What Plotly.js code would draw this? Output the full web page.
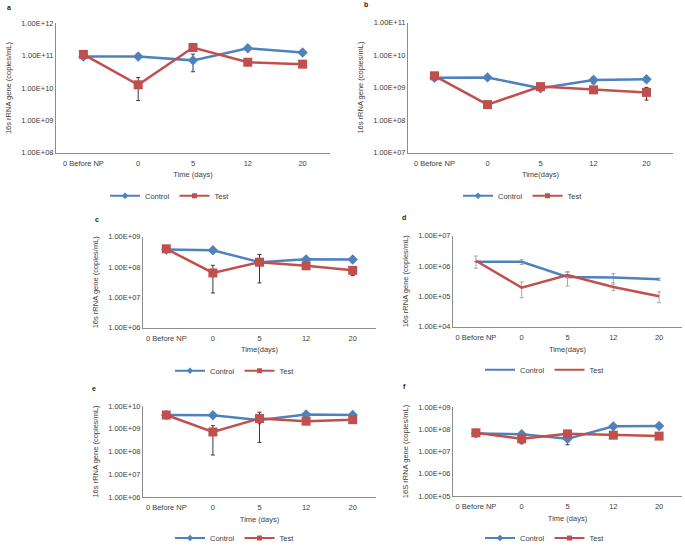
<!DOCTYPE html>
<html>
<head>
<meta charset="utf-8">
<script src="https://cdn.plot.ly/plotly-3.0.1.min.js"></script>
<style>html,body{margin:0;padding:0;background:#fff}#chart{width:685px;height:553px}</style>
</head>
<body>
<div id="chart"></div>
<script>
// ---- Data ----
const categories = ['0 Before NP', '0', '5', '12', '20'];

// Panel a
const aControl = [9.5e10, 9.5e10, 7.2e10, 1.7e11, 1.26e11];
const aControlErr = [1e10, 5e9, 4e10, 1e10, 8e9];
const aTest = [1.1e11, 1.26e10, 1.8e11, 6.3e10, 5.5e10];
const aTestErr = [0, 8.5e9, 0, 0, 0];
// Panel b
const bControl = [2.0e9, 2.05e9, 9.5e8, 1.7e9, 1.8e9];
const bControlErr = [2e8, 1.5e8, 1e8, 4e8, 2.5e8];
const bTest = [2.3e9, 3.0e8, 1.07e9, 8.5e8, 7.1e8];
const bTestErr = [0, 0, 0, 0, 3e8];
// Panel c
const cControl = [3.8e8, 3.6e8, 1.45e8, 1.8e8, 1.78e8];
const cControlErr = [3e7, 0, 0, 2e7, 0];
const cTest = [4.0e8, 6.4e7, 1.45e8, 1.1e8, 7.8e7];
const cTestErr = [0, 5e7, 1.15e8, 1.5e7, 2.5e7];
// Panel d
const dControl = [1.38e6, 1.38e6, 4.4e5, 4.2e5, 3.7e5];
const dControlErr = [0, 2.5e5, 2.2e5, 1.4e5, 3e4];
const dTest = [1.5e6, 1.95e5, 5.1e5, 2.05e5, 1.02e5];
const dTestErr = [6.5e5, 1.05e5, 1e5, 5e4, 4e4];
// Panel e
const eControl = [4.0e9, 3.9e9, 2.4e9, 4.2e9, 4.0e9];
const eControlErr = [0, 0, 0, 0, 0];
const eTest = [4.0e9, 7.2e8, 2.8e9, 2.15e9, 2.5e9];
const eTestErr = [0, 6.5e8, 2.55e9, 0, 3e8];
// Panel f
const fControl = [6.5e7, 6.0e7, 3.7e7, 1.35e8, 1.4e8];
const fControlErr = [0, 0, 1.7e7, 0, 0];
const fTest = [6.9e7, 3.7e7, 6.2e7, 5.4e7, 4.9e7];
const fTestErr = [0, 1.5e7, 0, 0, 0];

const yTickExps = {
  a: [8, 9, 10, 11, 12],
  b: [7, 8, 9, 10, 11],
  c: [6, 7, 8, 9],
  d: [4, 5, 6, 7],
  e: [6, 7, 8, 9, 10],
  f: [5, 6, 7, 8, 9]
};
const yTitles = {
  a: '16s rRNA gene (copies/mL)', b: '16s rRNA gene (copies/mL)', c: '16s rRNA gene (copies/mL)',
  d: '16s rRNA gene (copies/mL)', e: '16s rRNA gene (copies/mL)', f: '16S rRNA gene (copies/mL)'
};
const xTitles = {a: 'Time (days)', b: 'Time(days)', c: 'Time(days)', d: 'Time(days)', e: 'Time (days)', f: 'Time (days)'};
const seriesNames = ['Control', 'Test'];

// ---- Layout geometry (pixels) ----
const W = 685, H = 553;
const panels = [
  {k: 'a', ctrl: aControl, ctrlErr: aControlErr, test: aTest, testErr: aTestErr, box: [56, 330, 24, 156], leg: [170, 200], lab: [5, 8], markers: true, errCol: '#3a3a3a'},
  {k: 'b', ctrl: bControl, ctrlErr: bControlErr, test: bTest, testErr: bTestErr, box: [408, 673, 23, 156], leg: [523, 200], lab: [362, 5], markers: true, errCol: '#3a3a3a'},
  {k: 'c', ctrl: cControl, ctrlErr: cControlErr, test: cTest, testErr: cTestErr, box: [143, 376, 242, 335], leg: [235, 379], lab: [93, 224], markers: true, errCol: '#3a3a3a'},
  {k: 'd', ctrl: dControl, ctrlErr: dControlErr, test: dTest, testErr: dTestErr, box: [453, 682, 241, 334], leg: [545, 378], lab: [400, 222], markers: false, errCol: '#a8a8a8'},
  {k: 'e', ctrl: eControl, ctrlErr: eControlErr, test: eTest, testErr: eTestErr, box: [143, 376, 415, 508], leg: [235, 550], lab: [90, 397], markers: true, errCol: '#3a3a3a'},
  {k: 'f', ctrl: fControl, ctrlErr: fControlErr, test: fTest, testErr: fTestErr, box: [453, 682, 416, 507], leg: [545, 550], lab: [401, 395], markers: true, errCol: '#3a3a3a'}
];

const BLUE = '#4F81BD', RED = '#C0504D';
const FONT = 'Liberation Sans, Arial, sans-serif';
const traces = [];
const layout = {
  width: W, height: H,
  margin: {l: 0, r: 0, t: 0, b: 0},
  paper_bgcolor: '#fff', plot_bgcolor: '#fff',
  font: {family: FONT, size: 7, color: '#404040'},
  showlegend: true,
  annotations: []
};

panels.forEach((p, i) => {
  const n = i + 1;
  const xa = n === 1 ? 'xaxis' : 'xaxis' + n;
  const ya = n === 1 ? 'yaxis' : 'yaxis' + n;
  const xr = n === 1 ? 'x' : 'x' + n;
  const yr = n === 1 ? 'y' : 'y' + n;
  const lg = n === 1 ? 'legend' : 'legend' + n;
  const [x0, x1, y0, y1] = p.box;
  const exps = yTickExps[p.k];
  layout[xa] = {
    domain: [x0 / W, x1 / W], anchor: yr, type: 'category',
    categoryorder: 'array', categoryarray: categories,
    range: [-0.5, 4.5],
    showline: true, linecolor: '#8c8c8c', linewidth: 1,
    showgrid: false, zeroline: false, ticks: '',
    ticklabelstandoff: 3,
    tickfont: {size: 7.5, color: '#404040'},
    title: {text: xTitles[p.k], font: {size: 7.5, color: '#404040'}, standoff: 5},
    fixedrange: true
  };
  layout[ya] = {
    domain: [1 - y1 / H, 1 - y0 / H], anchor: xr, type: 'log',
    range: [exps[0], exps[exps.length - 1]],
    tickvals: exps.map(e => Math.pow(10, e)),
    ticktext: exps.map(e => '1.00E+' + (e < 10 ? '0' + e : e)),
    showline: true, linecolor: '#8c8c8c', linewidth: 1,
    showgrid: false, zeroline: false, ticks: '',
    tickfont: {size: 7.5, color: '#404040'},
    title: {text: yTitles[p.k], font: {size: 7.5, color: '#404040'}, standoff: 8},
    fixedrange: true
  };
  layout[lg] = {
    orientation: 'h', x: p.leg[0] / W, y: 1 - p.leg[1] / H,
    xanchor: 'center', yanchor: 'middle',
    font: {size: 7.5, color: '#404040'},
    itemwidth: 30, bgcolor: 'rgba(0,0,0,0)', tracegroupgap: 0
  };
  layout.annotations.push({
    text: '<b>' + p.k + '</b>', xref: 'paper', yref: 'paper',
    x: p.lab[0] / W, y: 1 - p.lab[1] / H, xanchor: 'left', yanchor: 'middle',
    showarrow: false, font: {size: 7, color: '#222'}
  });
  const mode = p.markers ? 'lines+markers' : 'lines';
  const series = [
    {y: p.ctrl, err: p.ctrlErr, color: BLUE, symbol: 'diamond', size: 8, lsize: 5},
    {y: p.test, err: p.testErr, color: RED, symbol: 'square', size: 9, lsize: 5}
  ];
  series.forEach((s, j) => {
    // data trace
    traces.push({
      type: 'scatter', mode: mode, name: seriesNames[j], x: categories, y: s.y,
      xaxis: xr, yaxis: yr, showlegend: false,
      line: {color: s.color, width: 2.5},
      marker: {symbol: s.symbol, size: s.size, color: s.color},
      error_y: {type: 'data', array: s.err, visible: true, color: p.errCol, thickness: 1, width: 2},
      cliponaxis: false, hoverinfo: 'skip'
    });
    // legend entry (no data, smaller legend marker)
    traces.push({
      type: 'scatter', mode: mode, name: seriesNames[j], x: [null], y: [null],
      xaxis: xr, yaxis: yr, legend: lg, showlegend: true,
      line: {color: s.color, width: 2},
      marker: {symbol: s.symbol, size: s.lsize, color: s.color},
      hoverinfo: 'skip'
    });
  });
});

Plotly.newPlot('chart', traces, layout, {staticPlot: true, displayModeBar: false});
</script>
</body>
</html>
